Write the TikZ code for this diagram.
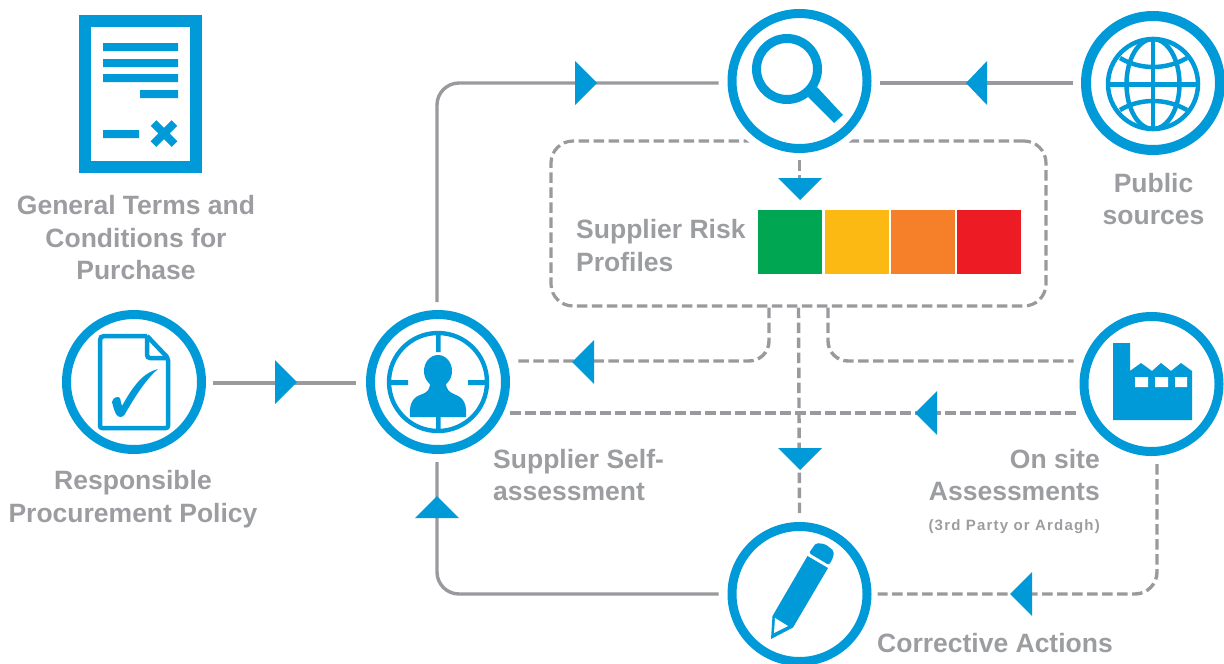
\documentclass[tikz,border=0pt]{standalone}
\usepackage{fontspec}
\setmainfont{Liberation Sans}
\definecolor{iblue}{HTML}{009AD9}
\definecolor{lgray}{HTML}{999A9D}
\definecolor{tgray}{HTML}{9C9DA0}
\tikzset{
  ring/.style={circle,draw=iblue,line width=9pt,fill=white,minimum size=135pt,inner sep=0pt},
  conn/.style={draw=lgray,line width=3.4pt},
  dconn/.style={conn,dash pattern=on 10.5pt off 4.5pt},
  tip/.style={fill=iblue,draw=none},
  icon/.style={fill=iblue,draw=none},
  iconline/.style={draw=iblue,fill=none},
  lab/.style={text=tgray,font=\bfseries\fontsize{26.5}{32}\selectfont,inner sep=0pt,anchor=base},
  labl/.style={lab,anchor=base west},
  labr/.style={lab,anchor=base east},
  risk/.style={draw=none,minimum width=64pt,minimum height=64pt,inner sep=0pt}
}
\begin{document}
\begin{tikzpicture}[x=1pt,y=-1pt]
\useasboundingbox (0,0) rectangle (1224,664);
% risk box
\node[dconn,rounded corners=22pt,minimum width=495pt,minimum height=165pt,inner sep=0pt,line width=3.2pt] (riskbox) at (798.5,223.5) {};
\fill[white] (799,81) circle (79);
% rings
\node[ring] (search) at (799.5,81) {};
\node[ring,line width=10pt,minimum size=134pt] (globe) at (1153,83) {};
\node[ring] (person) at (438,382) {};
\node[ring] (policy) at (134,382) {};
\node[ring] (factory) at (1151.5,384) {};
\node[ring] (pencil) at (799.5,594) {};
% terms document
\node[draw=iblue,line width=12pt,minimum width=111pt,minimum height=146pt,inner sep=0pt] (terms) at (140.5,94) {};
\fill[icon] (103,43) rectangle (178,51) (103,59) rectangle (178,67) (103,74) rectangle (178,82) (140,90) rectangle (178,98) (103,130) rectangle (139,138);
\draw[iblue,line width=8pt] (153.5,123) -- (174.5,144) (153.5,144) -- (174.5,123);
% risk cells
\node[risk,fill={rgb,255:red,0;green,166;blue,81}] (rgreen) at (790,242) {};
\node[risk,fill={rgb,255:red,253;green,185;blue,19}] (ryellow) at (857,242) {};
\node[risk,fill={rgb,255:red,245;green,128;blue,41}] (rorange) at (923,242) {};
\node[risk,fill={rgb,255:red,237;green,28;blue,36}] (rred) at (989,242) {};
% connectors
\draw[conn,rounded corners=22pt] ([shift={(-1pt,8pt)}]person.north) |- ([shift={(-9pt,-2pt)}]search.west);
\draw[conn] ([shift={(8pt,-2pt)}]search.east) -- ([xshift=-8pt]globe.west);
\draw[conn] ([shift={(7pt,-1pt)}]policy.east) -- ([shift={(-10pt,-1pt)}]person.west);
\draw[conn,rounded corners=22pt] ([xshift=-9pt]pencil.west) -| ([shift={(-1pt,-8pt)}]person.south);
\draw[dconn] ([yshift=-7pt]search.south) -- ([yshift=-25pt]search.south);
\draw[dconn,rounded corners=20pt] ([xshift=-29.5pt]riskbox.south) |- ([shift={(5pt,21pt)}]person.east);
\draw[dconn] (riskbox.south) -- ([yshift=9pt]pencil.north);
\draw[dconn,rounded corners=20pt] ([xshift=29.5pt]riskbox.south) |- ([shift={(-6pt,23pt)}]factory.west);
\draw[dconn] ([shift={(-4pt,-29pt)}]factory.west) -- ([yshift=-31pt]person.east);
\draw[dconn,rounded corners=22pt] ([shift={(5.5pt,-8pt)}]factory.south) |- ([xshift=6pt]pencil.east);
% arrowheads
\fill[tip] (575,61) -- (597,83) -- (575,105) -- cycle;
\fill[tip] (987,61) -- (966,83) -- (987,105) -- cycle;
\fill[tip] (778,178) -- (800,200) -- (822,178) -- cycle;
\fill[tip] (275,360) -- (297,382) -- (275,404) -- cycle;
\fill[tip] (594,340) -- (572,362) -- (594,384) -- cycle;
\fill[tip] (778,448) -- (800,470) -- (822,448) -- cycle;
\fill[tip] (937,391) -- (915,413) -- (937,435) -- cycle;
\fill[tip] (1032,572) -- (1010,594) -- (1032,616) -- cycle;
\fill[tip] (415,518) -- (437,496) -- (459,518) -- cycle;
% magnifier
\draw[iconline,line width=9pt] (787,69) circle (30.5);
\fill[icon] (817,87) -- (843,115) -- (834,123) -- (808,97) -- cycle;
% globe
\begin{scope}[iconline,line width=4.5pt]
\draw (1153,84) circle (45);
\draw (1153,84) ellipse (26.5 and 45);
\draw (1153,39) -- (1153,129);
\draw[line width=5pt] (1108,84) -- (1198,84);
\draw (1120,58) .. controls (1140,70) and (1166,70) .. (1187,58);
\draw (1120,110) .. controls (1140,98) and (1166,98) .. (1187,110);
\end{scope}
% policy icon
\draw[iconline,line width=4.5pt,line join=round,rounded corners=2pt] (147,336) -- (102,336) -- (100,338) -- (100,428) -- (168,428) -- (168,358) -- (147,336);
\draw[iconline,line width=4.5pt,rounded corners=3pt] (147,336) -- (147,358) -- (168,358);
\fill[icon] (112,402) .. controls (113,397) and (118,396) .. (120,398) .. controls (121,401) and (121,404) .. (122,406) .. controls (132,388) and (142,373) .. (158,369) .. controls (145,380) and (133,400) .. (125,414) .. controls (123,418) and (118,418) .. (116,414) .. controls (114,410) and (113,406) .. (112,402) -- cycle;
% person icon
\draw[iconline,line width=4.4pt] (438,382) circle (49);
\fill[icon] (436,335) rectangle (440.5,352) (390,380) rectangle (408,385) (468,380) rectangle (487,385) (436,416) rectangle (440.5,430);
\fill[icon] (438,371) ellipse (14 and 16);
\fill[icon] (410,417) .. controls (409,405) and (412,398) .. (420,395) .. controls (428,392) and (430,390) .. (430,382) -- (446,382) .. controls (446,390) and (449,392) .. (456,395) .. controls (464,398) and (467,405) .. (466,417) -- cycle;
% factory icon
\fill[icon] (1113,343) -- (1130,343) -- (1130,371) -- (1141,363) -- (1152,371) -- (1161,363) -- (1171,371) -- (1181,363) -- (1192,371) -- (1192,420) -- (1113,420) -- cycle;
\fill[white] (1135,377) rectangle (1148,387) (1155,377) rectangle (1168,387) (1175,377) rectangle (1187,387);
% pencil icon
\fill[icon] (771,639) -- (772.5,616) -- (807.5,556) -- (828,568) -- (793,627.5) -- cycle;
\fill[icon,rounded corners=2pt] (809,553) -- (816,543) -- (825,544) -- (834,551) -- (833,558) -- (829,565) -- cycle;
\fill[white] (775,618) -- (788,626) -- (774,633) -- cycle;
% labels
\node[lab] (ltermsa) at (136,214) {General Terms and};
\node[lab] (ltermsb) at (136,247) {Conditions for};
\node[lab] (ltermsc) at (136,279) {Purchase};
\node[lab] (lpolicya) at (133,489) {Responsible};
\node[lab] (lpolicyb) at (133,522) {Procurement Policy};
\node[lab] (lpublica) at (1153.5,192) {Public};
\node[lab] (lpublicb) at (1153.5,224) {sources};
\node[labl] (lriska) at (576,238) {Supplier Risk};
\node[labl] (lriskb) at (576,271) {Profiles};
\node[labl] (lselfa) at (493,468) {Supplier Self-};
\node[labl] (lselfb) at (493,500) {assessment};
\node[labr] (lsitea) at (1100,468) {On site};
\node[labr] (lsiteb) at (1100,500) {Assessments};
\node[labr,font=\bfseries\fontsize{15}{16}\selectfont\addfontfeature{LetterSpace=8}] (lsitec) at (1100,530) {(3rd Party or Ardagh)};
\node[labl] (lcorr) at (877,652) {Corrective Actions};
\end{tikzpicture}
\end{document}
